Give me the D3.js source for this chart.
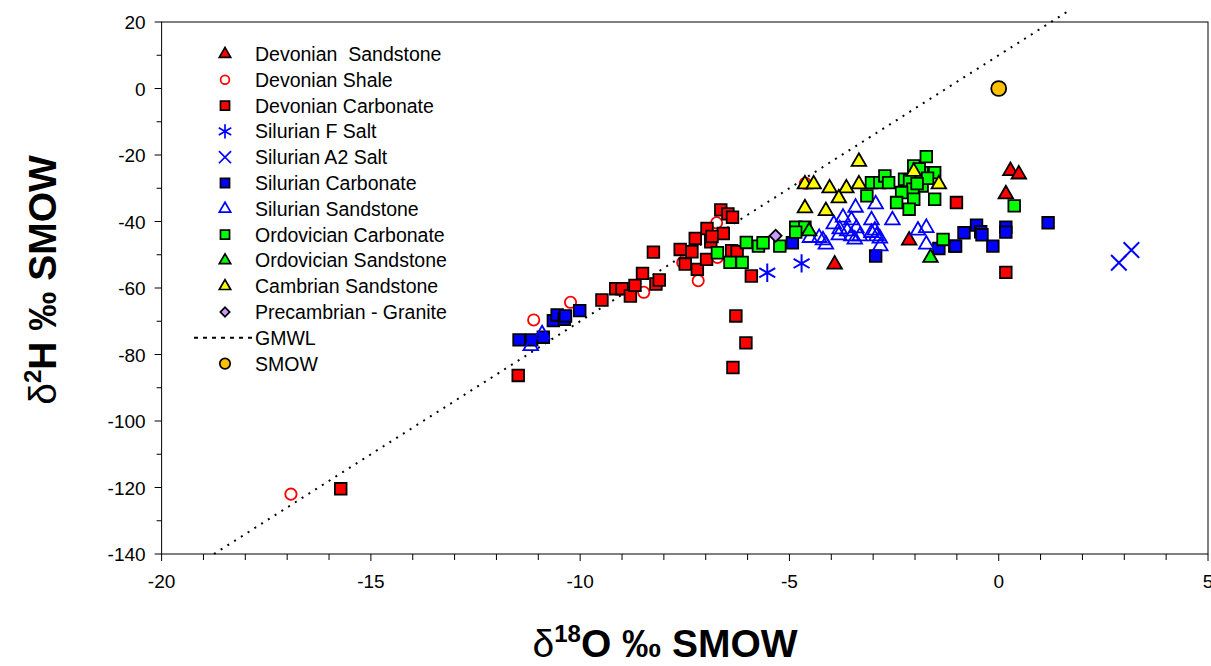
<!DOCTYPE html>
<html>
<head>
<meta charset="utf-8">
<title>d2H vs d18O</title>
<style>
  body {margin: 0; background: white;}
  text {font-family: "Liberation Sans", Arial, sans-serif; white-space: pre;}
</style>
</head>
<body>
<div id="chart"></div>
<script src="https://d3js.org/d3.v7.min.js"></script>
<script>
// series values, [d18O, d2H]
var devSandstone = [[0.28,-24.5],[0.48,-25.5],[0.17,-31.5],[-3.92,-52.6],[-2.14,-45.4]];
var devShale = [[-16.91,-122],[-11.11,-69.6],[-10.23,-64.3],[-8.48,-61.3],[-7.55,-52.4],[-7.18,-57.8],
                [-6.74,-40.4],[-6.72,-50.8],[-4.62,-28.5]];
var devCarbonate = [[-15.72,-120.4],[-11.48,-86.3],[-9.48,-63.6],[-9.15,-60.2],[-9.0,-60.2],[-8.80,-62.4],
                    [-8.69,-59.2],[-8.51,-55.6],[-8.19,-58.8],[-8.11,-57.6],[-8.25,-49.2],[-7.61,-48.4],
                    [-7.33,-49.1],[-7.25,-45.1],[-7.49,-52.8],[-7.20,-54.4],[-6.98,-51.4],[-6.88,-46.1],
                    [-6.97,-42.1],[-6.58,-43.6],[-6.64,-36.5],[-6.47,-37.7],[-6.36,-38.7],[-6.38,-48.8],
                    [-6.25,-49.1],[-5.91,-56.4],[-6.28,-68.4],[-6.04,-76.5],[-6.35,-83.9],[-6.85,-44.5],
                    [-1.01,-34.3],[0.17,-55.3]];
var silFSalt = [[-5.53,-55.4],[-4.71,-52.6]];
var silA2Salt = [[2.87,-52.4],[3.17,-48.6]];
var silCarbonate = [[-11.46,-75.6],[-11.16,-75.6],[-10.88,-74.8],[-10.64,-69.8],[-10.55,-68.1],[-10.38,-69.4],
                    [-10.35,-68.4],[-10.01,-66.8],[-4.93,-46.4],[-2.94,-50.4],[-1.43,-48.1],[-1.05,-47.4],
                    [-1.03,-47.4],[-0.83,-43.4],[-0.53,-41.1],[-0.43,-43.1],[-0.40,-44.0],[-0.14,-47.4],
                    [0.17,-41.7],[0.17,-43.2],[1.18,-40.4]];
var silSandstone = [[-11.18,-77.1],[-10.91,-73.6],[-3.42,-35.5],[-2.94,-34.5],[-3.72,-38.5],[-3.52,-39.3],
                    [-3.94,-40.5],[-3.04,-39.3],[-2.54,-39.3],[-3.80,-42.0],[-3.40,-41.7],[-3.62,-42.6],
                    [-2.96,-42.4],[-3.04,-43.1],[-2.92,-44.1],[-2.84,-44.8],[-3.82,-43.8],[-3.52,-44.1],
                    [-3.32,-44.1],[-3.44,-45.1],[-4.51,-44.6],[-4.29,-44.6],[-4.20,-45.3],[-4.13,-46.6],
                    [-2.83,-47.1],[-1.93,-42.4],[-1.73,-41.6],[-1.73,-46.6]];
var ordCarbonate = [[-6.72,-49.4],[-6.42,-52.3],[-6.13,-52.3],[-6.03,-46.3],[-5.74,-47.4],[-5.63,-46.4],
                    [-5.23,-47.4],[-4.85,-41.7],[-4.63,-41.7],[-4.85,-43.2],[-3.04,-28.3],[-2.84,-28.3],
                    [-2.72,-26.3],[-2.63,-28.3],[-3.15,-32.3],[-1.73,-20.5],[-2.03,-23.3],[-1.83,-25.3],
                    [-1.53,-25.3],[-2.25,-27.3],[-2.13,-27.7],[-1.83,-29.3],[-2.05,-30.3],[-2.32,-31.3],
                    [-2.44,-34.3],[-2.03,-33.3],[-2.14,-36.3],[-1.53,-33.3],[-1.90,-24.2],[-1.70,-27.0],
                    [-1.95,-28.6],[-1.33,-45.4],[0.37,-35.3]];
var ordSandstone = [[-4.53,-42.6],[-1.63,-50.6]];
var cambSandstone = [[-3.34,-21.7],[-4.63,-28.5],[-4.42,-28.5],[-4.04,-29.7],[-3.64,-29.7],[-3.34,-28.5],
                     [-3.82,-32.7],[-4.63,-35.7],[-4.13,-36.5],[-2.03,-24.7],[-1.43,-28.5]];
var precambrian = [[-5.33,-44.3]];
var smow = [[0, 0]];

var seriesNames = ["Devonian  Sandstone", "Devonian Shale", "Devonian Carbonate", "Silurian F Salt",
                   "Silurian A2 Salt", "Silurian Carbonate", "Silurian Sandstone", "Ordovician Carbonate",
                   "Ordovician Sandstone", "Cambrian Sandstone", "Precambrian - Granite", "GMWL", "SMOW"];
var xTicks = [-20, -15, -10, -5, 0, 5];
var yTicks = [20, 0, -20, -40, -60, -80, -100, -120, -140];
// GMWL: d2H = 8 * d18O + 10, drawn from d2H -140 up to just above the frame
var gmwlSlope = 8, gmwlIntercept = 10, gmwlRange = [-140, 23];

var series = [
  {name: seriesNames[0], data: devSandstone, sym: "tri", fill: "#ff0000", stroke: "#000"},
  {name: seriesNames[1], data: devShale, sym: "circle", fill: "none", stroke: "#ff0000"},
  {name: seriesNames[2], data: devCarbonate, sym: "square", fill: "#ff0000", stroke: "#000"},
  {name: seriesNames[3], data: silFSalt, sym: "asterisk", fill: "none", stroke: "#0000ff"},
  {name: seriesNames[4], data: silA2Salt, sym: "times", fill: "none", stroke: "#0000ff"},
  {name: seriesNames[5], data: silCarbonate, sym: "square", fill: "#0000ff", stroke: "#000"},
  {name: seriesNames[6], data: silSandstone, sym: "tri", fill: "none", stroke: "#0000ff"},
  {name: seriesNames[7], data: ordCarbonate, sym: "square", fill: "#00ff00", stroke: "#000"},
  {name: seriesNames[8], data: ordSandstone, sym: "tri", fill: "#00ff00", stroke: "#000"},
  {name: seriesNames[9], data: cambSandstone, sym: "tri", fill: "#ffff00", stroke: "#000"},
  {name: seriesNames[10], data: precambrian, sym: "diamond", fill: "#cc99ff", stroke: "#000"},
  {name: seriesNames[12], data: smow, sym: "bigcircle", fill: "#ffc000", stroke: "#000"}
];

var W = 1211, H = 666;
var plotL = 161.6, plotR = 1208, plotT = 22, plotB = 554;

var svg = d3.select("#chart").append("svg").attr("width", W).attr("height", H);

var x = d3.scaleLinear().domain([-20, 5]).range([plotL, plotR]);
var y = d3.scaleLinear().domain([-140, 20]).range([plotB, plotT]);

// marker paths, scale factor k for legend
function symPath(sym, k) {
  k = k || 1;
  if (sym == "tri") return d3.symbol(d3.symbolTriangle, 92 * k * k)();
  if (sym == "square") return d3.symbol(d3.symbolSquare, 135 * k * k)();
  if (sym == "circle") return d3.symbol(d3.symbolCircle, 100 * k * k)();
  if (sym == "bigcircle") return d3.symbol(d3.symbolCircle, 175 * k * k)();
  if (sym == "diamond") return d3.symbol(d3.symbolSquare, 72 * k * k)();
  if (sym == "asterisk") return d3.symbol(d3.symbolAsterisk, 240 * k * k)();
  if (sym == "times") return d3.symbol(d3.symbolTimes, 160 * k * k)();
}
function symRot(sym) { return sym == "diamond" ? " rotate(45)" : ""; }

// frame
svg.append("rect").attr("x", plotL).attr("y", plotT)
   .attr("width", plotR - plotL).attr("height", plotB - plotT)
   .attr("fill", "none").attr("stroke", "#000").attr("stroke-width", 1);

// x ticks
svg.append("g").selectAll("line").data(d3.range(-20, 6, 1)).join("line")
   .attr("x1", d => x(d)).attr("x2", d => x(d))
   .attr("y1", plotB).attr("y2", d => plotB + (d % 5 == 0 ? 7 : 6))
   .attr("stroke", "#000");
svg.append("g").selectAll("text").data(xTicks).join("text")
   .attr("x", d => x(d)).attr("y", plotB + 34)
   .attr("text-anchor", "middle").attr("font-size", 19).text(d => d);

// y ticks
svg.append("g").selectAll("line").data(d3.range(-140, 21, 10)).join("line")
   .attr("x1", plotL).attr("x2", d => plotL - (d % 20 == 0 ? 7 : 5))
   .attr("y1", d => y(d)).attr("y2", d => y(d))
   .attr("stroke", "#000");
svg.append("g").selectAll("text").data(yTicks).join("text")
   .attr("x", plotL - 16).attr("y", d => y(d) + 7)
   .attr("text-anchor", "end").attr("font-size", 19).text(d => d);

// axis titles
var xt = svg.append("text").attr("x", 665).attr("y", 657).attr("text-anchor", "middle")
   .attr("font-size", 39).attr("font-weight", "bold");
xt.append("tspan").attr("font-weight", "normal").text("\u03B4");
xt.append("tspan").attr("font-size", 24).attr("dy", -15).text("18");
xt.append("tspan").attr("dy", 15).text("O \u2030 SMOW");

var yt = svg.append("text").attr("transform", "translate(56,280) rotate(-90)")
   .attr("text-anchor", "middle").attr("font-size", 39).attr("font-weight", "bold");
yt.append("tspan").attr("font-weight", "normal").text("\u03B4");
yt.append("tspan").attr("font-size", 24).attr("dy", -15).text("2");
yt.append("tspan").attr("dy", 15).text("H \u2030 SMOW");

// plot clip
svg.append("clipPath").attr("id", "clip").append("rect")
   .attr("x", plotL).attr("y", plotT).attr("width", plotR - plotL).attr("height", plotB - plotT);

// GMWL
var gx0 = (gmwlRange[0] - gmwlIntercept) / gmwlSlope, gx1 = (gmwlRange[1] - gmwlIntercept) / gmwlSlope;
svg.append("line")
   .attr("x1", x(gx0)).attr("y1", y(gmwlRange[0])).attr("x2", x(gx1)).attr("y2", y(gmwlRange[1]))
   .attr("stroke", "#000").attr("stroke-width", 2).attr("stroke-dasharray", "2,6");

// points
var pts = svg.append("g").attr("clip-path", "url(#clip)");
series.forEach(function(s) {
  var sw = (s.sym == "asterisk" || s.sym == "times") ? 2 : 1.8;
  pts.append("g").selectAll("path").data(s.data).join("path")
     .attr("d", symPath(s.sym))
     .attr("transform", d => "translate(" + x(d[0]) + "," + (y(d[1]) + (s.sym == "tri" ? 1 : 0)) + ")" + symRot(s.sym))
     .attr("fill", s.fill).attr("stroke", s.stroke).attr("stroke-width", sw);
});

// legend
var lg = svg.append("g");
seriesNames.forEach(function(name, i) {
  var ly = 54 + i * 25.8;
  lg.append("text").attr("x", 255).attr("y", ly + 7).attr("font-size", 19.5).text(name);
  if (name == "GMWL") {
    lg.append("line").attr("x1", 194).attr("x2", 253).attr("y1", ly).attr("y2", ly)
      .attr("stroke", "#000").attr("stroke-width", 2).attr("stroke-dasharray", "4,5");
    return;
  }
  var s = series.filter(d => d.name == name)[0];
  var k = s.sym == "bigcircle" ? 0.7 : 0.78;
  lg.append("path").attr("d", symPath(s.sym, k))
    .attr("transform", "translate(225," + ly + ")" + symRot(s.sym))
    .attr("fill", s.fill).attr("stroke", s.stroke).attr("stroke-width", 1.7);
});
</script>
</body>
</html>
